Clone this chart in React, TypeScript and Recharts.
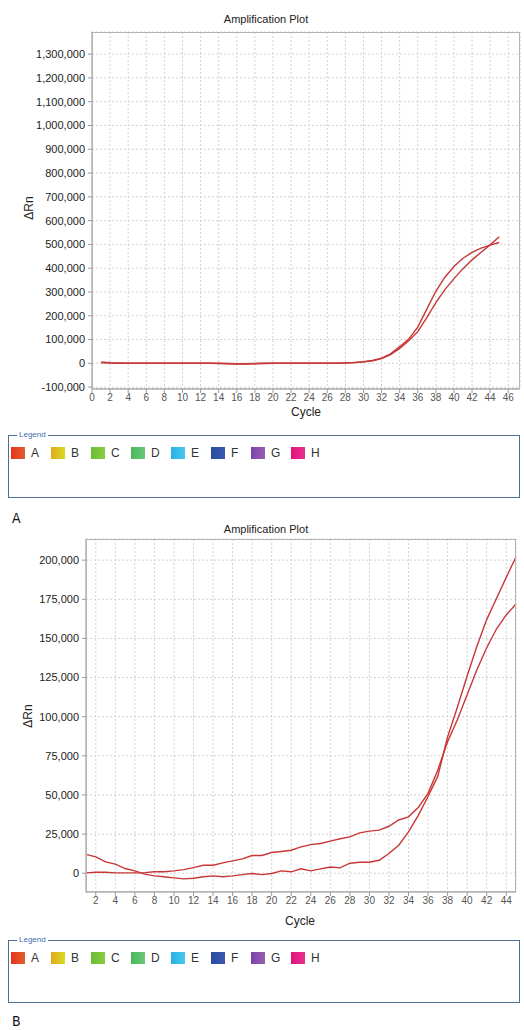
import React from 'react';
import { LineChart, Line, XAxis, YAxis, CartesianGrid } from 'recharts';

// cycle numbers for both runs
const cycles = [
  1, 2, 3, 4, 5, 6, 7, 8, 9, 10, 11, 12, 13, 14, 15, 16, 17, 18, 19, 20, 21, 22, 23,
  24, 25, 26, 27, 28, 29, 30, 31, 32, 33, 34, 35, 36, 37, 38, 39, 40, 41, 42, 43, 44, 45,
];

// plot A - delta Rn per cycle
const plotAWell1 = [
  6000, 3000, 1500, 0, 0, 0, 0, 0, 0, 0, 0, 0, 0, -500, -2000, -3000, -3000, -2000, -500, 0,
  0, 0, 0, 0, 0, 500, 1000, 2000, 3500, 6500, 12000, 22000, 40000, 70000, 102000, 152000,
  228000, 303000, 362000, 407000, 442000, 466000, 484000, 497000, 508000,
];
const plotAWell2 = [
  2000, 1000, 0, 0, 0, 0, 0, 0, 0, 0, 0, 0, 0, 0, -1000, -2000, -2000, -1000, 0, 0, 0, 0, 0,
  0, 0, 0, 500, 1500, 3000, 6000, 11000, 20000, 37000, 63000, 95000, 133000, 192000, 255000,
  310000, 356000, 398000, 435000, 467000, 498000, 532000,
];

// plot B - delta Rn per cycle
const plotBWell1 = [
  12000, 10400, 7200, 5800, 3000, 1500, -600, -1700, -2300, -3000, -3600, -3200, -2300, -1700,
  -2300, -1700, -900, -200, -900, -200, 1500, 900, 2800, 1500, 2800, 4000, 3400, 6400, 7000,
  7000, 8300, 12600, 17900, 26400, 37000, 49000, 62000, 87000, 106000, 126000, 145000, 162000,
  175500, 189000, 202000,
];
const plotBWell2 = [
  200, 600, 600, 200, 200, 200, 400, 900, 900, 1500, 2300, 3600, 5100, 5100, 6600, 7900, 9200,
  11300, 11300, 13200, 13900, 14700, 16800, 18300, 19000, 20500, 22000, 23200, 25800, 26900,
  27500, 30000, 34000, 36000, 42000, 51000, 66000, 84000, 98000, 114000, 130000, 144000,
  156000, 165000, 172000,
];

const plotAXTicks = [0, 2, 4, 6, 8, 10, 12, 14, 16, 18, 20, 22, 24, 26, 28, 30, 32, 34, 36, 38, 40, 42, 44, 46];
const plotAYTicks = [
  -100000, 0, 100000, 200000, 300000, 400000, 500000, 600000, 700000, 800000, 900000, 1000000,
  1100000, 1200000, 1300000,
];
const plotBXTicks = [2, 4, 6, 8, 10, 12, 14, 16, 18, 20, 22, 24, 26, 28, 30, 32, 34, 36, 38, 40, 42, 44];
const plotBYTicks = [0, 25000, 50000, 75000, 100000, 125000, 150000, 175000, 200000];

const legendNames = ['A', 'B', 'C', 'D', 'E', 'F', 'G', 'H'];
const legendColors = [
  ['#e8321e', '#e0602a'],
  ['#e2a820', '#d6dc22'],
  ['#6cbc34', '#8ccc44'],
  ['#48b858', '#6cc87a'],
  ['#2aaee6', '#48c8ee'],
  ['#2c4aa0', '#3a58b0'],
  ['#7a44a8', '#9a5eb4'],
  ['#e0147e', '#e8308c'],
];

const dataA = cycles.map((c, i) => ({ cycle: c, w1: plotAWell1[i], w2: plotAWell2[i] }));
const dataB = cycles.map((c, i) => ({ cycle: c, w1: plotBWell1[i], w2: plotBWell2[i] }));

const FONT = "'Liberation Sans', Arial, sans-serif";
const LINE_COLOR = '#c93636';
const fmt = (v: number) => v.toLocaleString('en-US');

function Legend({ top }: { top: number }) {
  return (
    <div
      style={{
        position: 'absolute',
        left: 8,
        top,
        width: 512,
        height: 63,
        border: '1.5px solid #4f6f92',
        boxSizing: 'border-box',
      }}
    >
      <span
        style={{
          position: 'absolute',
          left: 8,
          top: -6,
          fontSize: 8,
          color: '#3d6fb4',
          background: '#fff',
          padding: '0 2px',
          fontFamily: FONT,
          lineHeight: '10px',
        }}
      >
        Legend
      </span>
      {legendNames.map((name, i) => (
        <div
          key={name}
          style={{
            position: 'absolute',
            left: 2 + i * 40,
            top: 10,
            display: 'flex',
            alignItems: 'center',
            fontFamily: FONT,
            fontSize: 12,
            color: '#333',
          }}
        >
          <span
            style={{
              display: 'inline-block',
              width: 14,
              height: 12,
              background: `linear-gradient(90deg, ${legendColors[i][0]}, ${legendColors[i][1]})`,
              marginRight: 6,
            }}
          />
          {name}
        </div>
      ))}
    </div>
  );
}

function PlotTitle({ top }: { top: number }) {
  return (
    <div
      style={{
        position: 'absolute',
        left: 0,
        width: 532,
        top,
        textAlign: 'center',
        fontFamily: FONT,
        fontSize: 11,
        color: '#222',
      }}
    >
      Amplification Plot
    </div>
  );
}

function AxisLabels({ cycleX, cycleY, rnX, rnY }: { cycleX: number; cycleY: number; rnX: number; rnY: number }) {
  return (
    <>
      <div
        style={{
          position: 'absolute',
          left: cycleX - 30,
          width: 60,
          top: cycleY - 8,
          textAlign: 'center',
          fontFamily: FONT,
          fontSize: 12,
          color: '#222',
        }}
      >
        Cycle
      </div>
      <div
        style={{
          position: 'absolute',
          left: rnX - 20,
          width: 40,
          top: rnY - 8,
          textAlign: 'center',
          fontFamily: FONT,
          fontSize: 12,
          color: '#222',
          transform: 'rotate(-90deg)',
        }}
      >
        ΔRn
      </div>
    </>
  );
}

export default function App() {
  return (
    <div style={{ position: 'absolute', left: 0, top: 0, width: 524, height: 1030, background: '#fff' }}>
      <PlotTitle top={13} />
      <div style={{ position: 'absolute', left: 0, top: 0 }}>
        <LineChart width={524} height={430} data={dataA} margin={{ top: 32, right: 4, left: 0, bottom: 0 }}>
          <CartesianGrid strokeDasharray="2 2" stroke="#d2d2d2" />
          <XAxis
            type="number"
            dataKey="cycle"
            domain={[0, 47.3]}
            ticks={plotAXTicks}
            interval={0}
            height={41}
            tickSize={4}
            tickMargin={1}
            stroke="#999"
            tick={{ fontSize: 10, fill: '#555', fontFamily: FONT }}
          />
          <YAxis
            type="number"
            domain={[-108000, 1393000]}
            ticks={plotAYTicks}
            interval={0}
            width={92}
            tickSize={4}
            tickMargin={3}
            stroke="#999"
            tickFormatter={fmt}
            tick={{ fontSize: 11, fill: '#222', fontFamily: FONT }}
          />
          <Line type="linear" dataKey="w1" stroke={LINE_COLOR} strokeWidth={1.4} dot={false} isAnimationActive={false} />
          <Line type="linear" dataKey="w2" stroke={LINE_COLOR} strokeWidth={1.4} dot={false} isAnimationActive={false} />
        </LineChart>
      </div>
      <div
        style={{
          position: 'absolute',
          left: 92,
          top: 32,
          width: 428,
          height: 357,
          border: '1px solid #b4b4b4',
          boxSizing: 'border-box',
          pointerEvents: 'none',
        }}
      />
      <AxisLabels cycleX={306} cycleY={413} rnX={29} rnY={209} />
      <Legend top={435} />
      <div
        style={{
          position: 'absolute',
          left: 12,
          top: 510,
          fontFamily: "'DejaVu Sans Condensed', 'Liberation Sans Narrow', sans-serif",
          fontSize: 14,
          color: '#111',
        }}
      >
        A
      </div>

      <PlotTitle top={523} />
      <div style={{ position: 'absolute', left: 0, top: 520 }}>
        <LineChart width={524} height={400} data={dataB} margin={{ top: 19, right: 8, left: 0, bottom: 0 }}>
          <CartesianGrid strokeDasharray="2 2" stroke="#d2d2d2" />
          <XAxis
            type="number"
            dataKey="cycle"
            domain={[1, 45]}
            ticks={plotBXTicks}
            interval={0}
            height={28}
            tickSize={4}
            tickMargin={1}
            stroke="#999"
            tick={{ fontSize: 10, fill: '#555', fontFamily: FONT }}
          />
          <YAxis
            type="number"
            domain={[-12000, 213500]}
            ticks={plotBYTicks}
            interval={0}
            width={86}
            tickSize={4}
            tickMargin={3}
            stroke="#999"
            tickFormatter={fmt}
            tick={{ fontSize: 11, fill: '#222', fontFamily: FONT }}
          />
          <Line type="linear" dataKey="w1" stroke={LINE_COLOR} strokeWidth={1.4} dot={false} isAnimationActive={false} />
          <Line type="linear" dataKey="w2" stroke={LINE_COLOR} strokeWidth={1.4} dot={false} isAnimationActive={false} />
        </LineChart>
      </div>
      <div
        style={{
          position: 'absolute',
          left: 86,
          top: 539,
          width: 430,
          height: 353,
          border: '1px solid #b4b4b4',
          boxSizing: 'border-box',
          pointerEvents: 'none',
        }}
      />
      <AxisLabels cycleX={300} cycleY={922} rnX={28} rnY={717} />
      <Legend top={940} />
      <div
        style={{
          position: 'absolute',
          left: 12,
          top: 1013,
          fontFamily: "'DejaVu Sans Condensed', 'Liberation Sans Narrow', sans-serif",
          fontSize: 14,
          color: '#111',
        }}
      >
        B
      </div>
    </div>
  );
}
